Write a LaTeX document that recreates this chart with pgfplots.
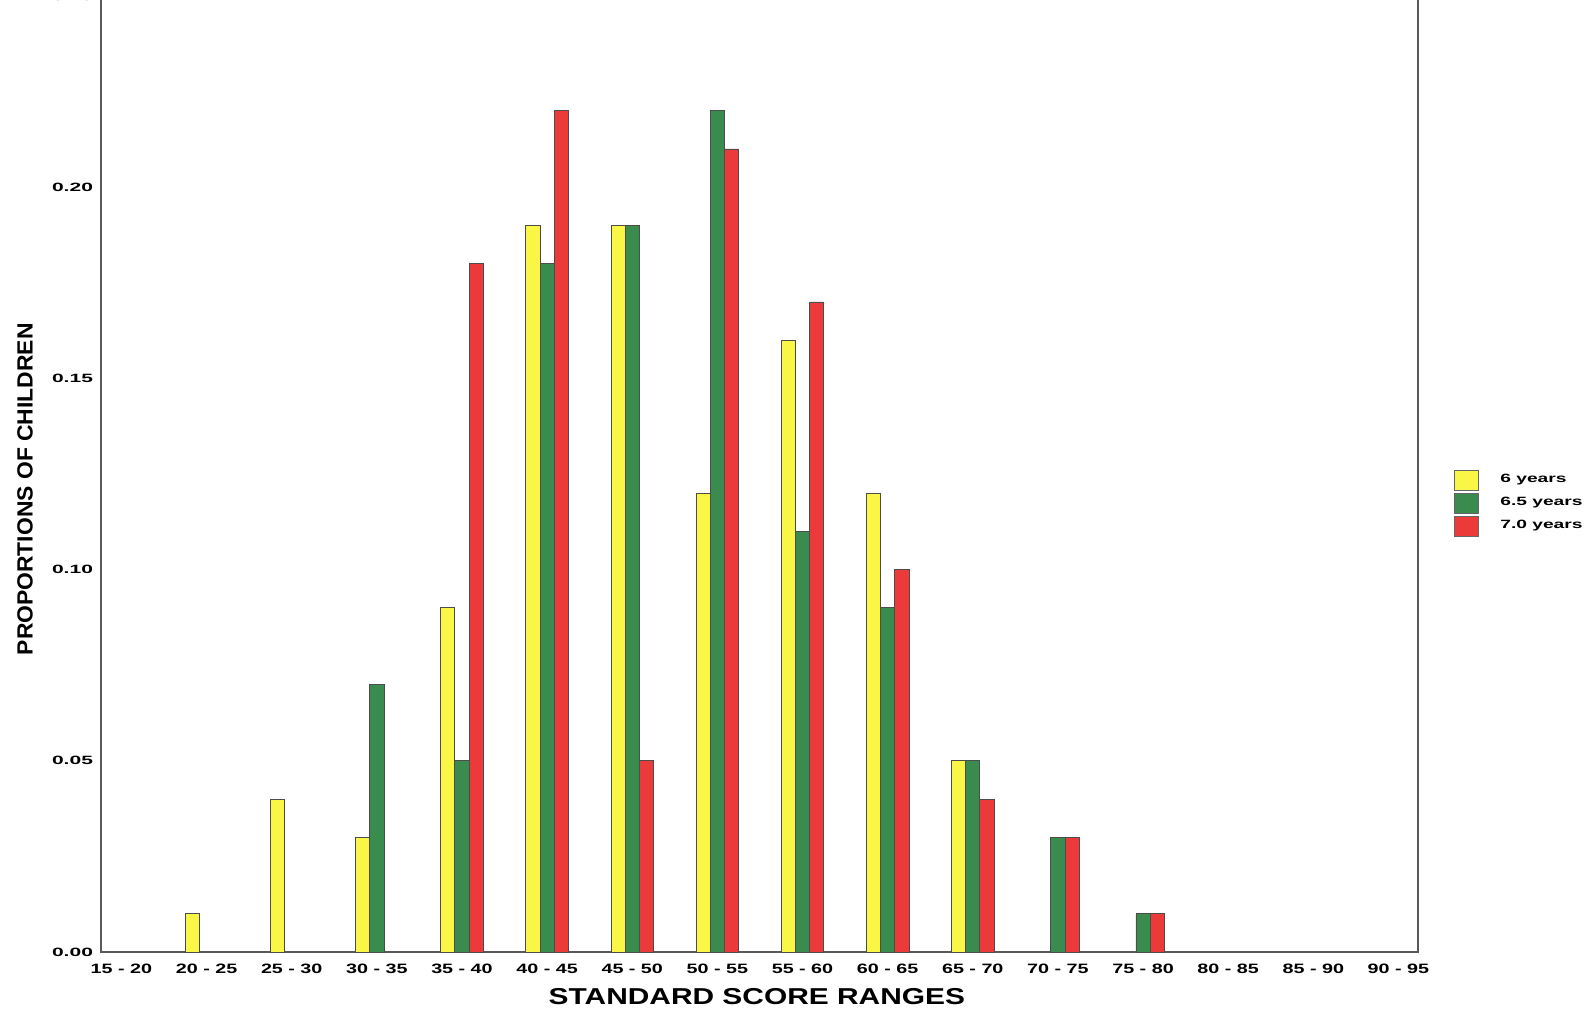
\documentclass[border=0pt]{standalone}
\usepackage{fontspec}
\setmainfont{Liberation Sans}
\newfontfamily\ytickfont[FakeStretch=1.75]{Liberation Sans}
\newfontfamily\xtickfont[FakeStretch=1.45]{Liberation Sans}
\newfontfamily\ylabfont[FakeStretch=1.04]{Liberation Sans}
\newfontfamily\xlabfont[FakeStretch=1.3]{Liberation Sans}
\newfontfamily\legfont[FakeStretch=1.6]{Liberation Sans}
\usepackage{pgfplots}
\pgfplotsset{compat=1.18}
\definecolor{cyel}{RGB}{250,246,70}
\definecolor{cgrn}{RGB}{58,140,78}
\definecolor{cred}{RGB}{236,58,58}
\begin{document}
\begin{tikzpicture}
\begin{axis}[
  width=658.5pt, height=478pt, scale only axis,
  xmin=-0.24, xmax=15.23, ymin=0, ymax=0.25,
  ybar=0pt, bar width=7.1pt,
  xtick={0,1,2,3,4,5,6,7,8,9,10,11,12,13,14,15},
  xticklabels={15 - 20,20 - 25,25 - 30,30 - 35,35 - 40,40 - 45,45 - 50,50 - 55,55 - 60,60 - 65,65 - 70,70 - 75,75 - 80,80 - 85,85 - 90,90 - 95},
  ytick={0,0.05,0.10,0.15,0.20,0.25},
  /pgf/number format/fixed, /pgf/number format/fixed zerofill, /pgf/number format/precision=2, /pgf/number format/assume math mode=true,
  yticklabel style={font=\ytickfont\bfseries\fontsize{6}{7}\selectfont, xshift=-0.5pt},
  xticklabel style={font=\xtickfont\bfseries\fontsize{6.8}{7}\selectfont, yshift=-2.5pt},
  major tick length=0pt,
  axis line style={draw=black!65, line width=0.8pt},
  xlabel={STANDARD SCORE RANGES},
  ylabel={PROPORTIONS OF CHILDREN},
  xlabel style={font=\xlabfont\bfseries\fontsize{11.5}{13}\selectfont, at={(axis description cs:0.498,-0.047)}, anchor=center},
  ylabel style={font=\ylabfont\bfseries\fontsize{11}{13}\selectfont, at={(axis description cs:-0.0577,0.484)}, anchor=center},
  every axis plot/.append style={draw=black!70, line width=0.4pt},
  legend style={at={(axis description cs:1.027,0.4695)}, anchor=west, draw=none, fill=none,
    font=\legfont\bfseries\fontsize{6}{7}\selectfont, inner sep=0pt,
    nodes={inner sep=0pt, minimum height=11.5pt, anchor=west}},
  legend cell align=left,
  legend image code/.code={\draw[#1, draw=black!60] (0pt,-5pt) rectangle (12pt,5pt); \path[draw=none, fill=none] (0pt,0pt) -- (23pt,0pt);},
]
\addplot[fill=cyel] coordinates {(1,0.01) (2,0.04) (3,0.03) (4,0.09) (5,0.19) (6,0.19) (7,0.12) (8,0.16) (9,0.12) (10,0.05)};
\addplot[fill=cgrn] coordinates {(3,0.07) (4,0.05) (5,0.18) (6,0.19) (7,0.22) (8,0.11) (9,0.09) (10,0.05) (11,0.03) (12,0.01)};
\addplot[fill=cred] coordinates {(4,0.18) (5,0.22) (6,0.05) (7,0.21) (8,0.17) (9,0.10) (10,0.04) (11,0.03) (12,0.01)};
\legend{6 years, 6.5 years, 7.0 years}
\end{axis}
\pgfresetboundingbox
\useasboundingbox (-50.5pt,-29.5pt) rectangle (746pt,476pt);
\end{tikzpicture}
\end{document}
